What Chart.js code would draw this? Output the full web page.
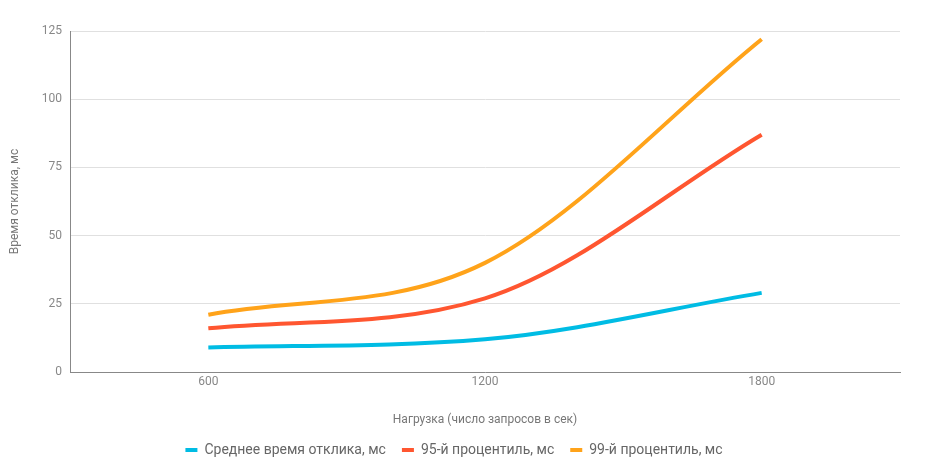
<!DOCTYPE html>
<html lang="ru">
<head>
  <meta charset="UTF-8">
  <title>Время отклика</title>
  <script src="https://cdn.jsdelivr.net/npm/chart.js"></script>
  <style>
    html, body { margin: 0; padding: 0; background: #fff; }
    #chart-container { width: 925px; height: 475px; }
  </style>
</head>
<body>
  <div id="chart-container">
    <canvas id="myChart"></canvas>
  </div>
  <script>
const loads = ['600', '1200', '1800'];
const avgTime = [9, 12, 29];
const p95 = [16, 27, 87];
const p99 = [21, 40, 122];

const font = 'Roboto';

const ctx = document.getElementById('myChart').getContext('2d');
new Chart(ctx, {
  type: 'line',
  data: {
    labels: loads,
    datasets: [
      { label: 'Среднее время отклика, мс', data: avgTime, borderColor: '#00bce4', backgroundColor: '#00bce4', borderWidth: 4 },
      { label: '95-й процентиль, мс', data: p95, borderColor: '#ff5630', backgroundColor: '#ff5630', borderWidth: 4 },
      { label: '99-й процентиль, мс', data: p99, borderColor: '#ffa31a', backgroundColor: '#ffa31a', borderWidth: 4 }
    ]
  },
  options: {
    responsive: true,
    maintainAspectRatio: false,
    animation: false,
    layout: { padding: { left: 8, right: 25, top: 31, bottom: 8 } },
    elements: {
      line: { cubicInterpolationMode: 'monotone', fill: false },
      point: { radius: 0, hoverRadius: 0 }
    },
    plugins: {
      tooltip: { enabled: false },
      legend: {
        position: 'bottom',
        labels: {
          usePointStyle: true,
          pointStyle: 'line',
          pointStyleWidth: 12,
          padding: 16,
          color: '#666',
          font: { family: font, size: 14 }
        }
      }
    },
    scales: {
      x: {
        type: 'category',
        offset: true,
        grid: { display: false, drawTicks: false },
        border: { display: true, color: '#888', width: 1 },
        ticks: { color: '#888', padding: 3, font: { family: font, size: 12 } },
        title: {
          display: true,
          text: 'Нагрузка (число запросов в сек)',
          color: '#777',
          font: { family: font, size: 12 },
          padding: { top: 20, bottom: 0 }
        },
        afterFit: s => { s.height = 55; }
      },
      y: {
        min: 0,
        max: 125,
        ticks: { stepSize: 25, color: '#888', padding: 8, font: { family: font, size: 12 } },
        grid: { color: '#e0e0e0', drawTicks: false },
        border: { display: true, color: '#888', width: 1 },
        title: {
          display: true,
          text: 'Время отклика, мс',
          color: '#777',
          font: { family: font, size: 12 },
          padding: 0
        },
        afterFit: s => { s.width = 62; }
      }
    }
  }
});
  </script>
</body>
</html>
